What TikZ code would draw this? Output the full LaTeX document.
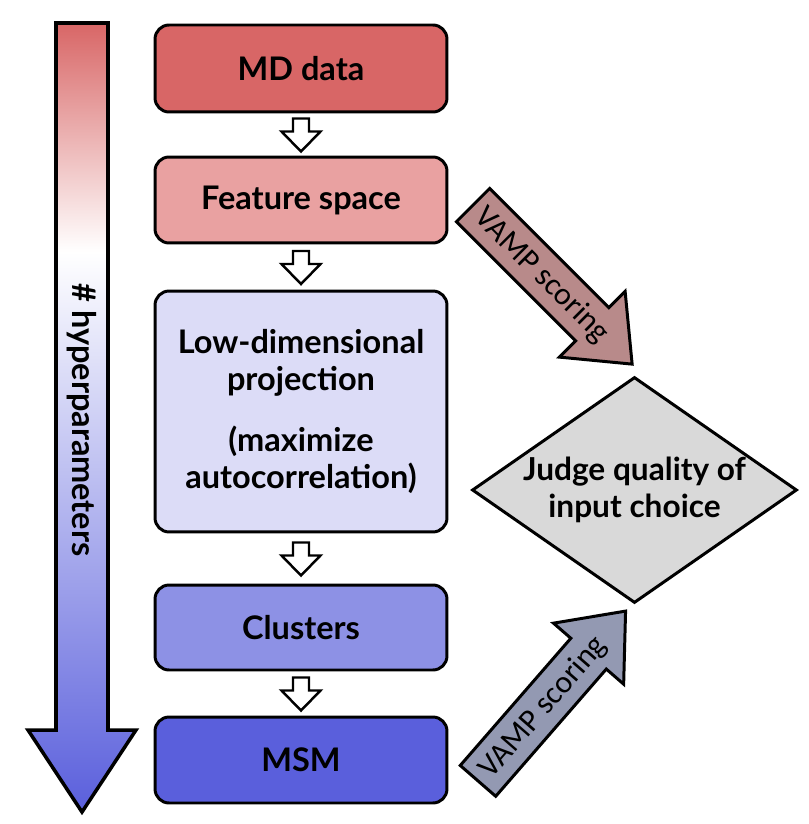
\documentclass[tikz,border=0pt]{standalone}
\usepackage{fontspec}
\setmainfont{Lato}
\newfontfamily\arrowfont{Carlito}
\usetikzlibrary{calc, positioning, shapes.geometric, shapes.arrows}

\definecolor{mdred}{HTML}{D86666}
\definecolor{featred}{HTML}{E9A1A1}
\definecolor{lowviolet}{HTML}{DCDCF7}
\definecolor{clublue}{HTML}{8D91E5}
\definecolor{msmblue}{HTML}{5A5FDC}
\definecolor{judgegray}{HTML}{D9D9D9}
\definecolor{vampred}{HTML}{B88A8A}
\definecolor{vampblue}{HTML}{9399B2}

\pgfdeclareverticalshading{hyper}{100bp}{color(0bp)=(msmblue); color(25bp)=(msmblue); color(60.5bp)=(white); color(75bp)=(mdred); color(100bp)=(mdred)}

\tikzset{
	stage/.style={draw, line width=1.7pt, rounded corners=8pt, minimum width=5.84cm, align=center, font=\bfseries\fontsize{18.5}{21.5}\selectfont},
	vamp/.style={single arrow, draw, line width=1.7pt, anchor=tail, minimum height=4.5cm, minimum width=1.8cm, single arrow head extend=0.46cm, single arrow tip angle=79, inner ysep=0pt, text height=0.63cm, text depth=0.25cm, font=\arrowfont\fontsize{18}{20}\selectfont},
	hollow/.pic={
		\draw[line width=1.4pt, fill=white] (-8,-16) -- (8,-16) -- (8,-3) -- (19.5,-3) -- (0,17) -- (-19.5,-3) -- (-8,-3) -- cycle;
	}
}

\begin{document}
\begin{tikzpicture}[x=0.02cm, y=-0.02cm]
	\useasboundingbox (0,0) rectangle (808,824);

	\shadedraw[shading=hyper, line width=2pt] (56,23) -- (108,23) -- (108,730) -- (136,730) -- (82,812) -- (28,730) -- (56,730) -- cycle;
	\node[rotate=-90, font=\bfseries\fontsize{18.5}{20}\selectfont] (hyper) at (82,420) {\# hyperparameters};

	\node[stage, fill=mdred, minimum height=1.74cm] (md) at (301,68.5) {MD data};
	\node[stage, fill=featred, minimum height=1.72cm] (feat) at (301,200) {Feature space};
	\node[stage, fill=lowviolet, minimum height=4.82cm] (low) at (301,411.5) {Low-dimensional\\projection\\[0.45cm](maximize\\autocorrelation)};
	\node[stage, fill=clublue, minimum height=1.7cm] (clu) at (301,627.5) {Clusters};
	\node[stage, fill=msmblue, minimum height=1.72cm] (msm) at (301,760) {MSM};

	\foreach \a/\b in {md/feat, feat/low, low/clu, clu/msm}
		\pic at ($(\a.south)!0.5!(\b.north)$) {hollow};

	\node[diamond, draw, line width=1.7pt, fill=judgegray, shape aspect=1.44, minimum width=6.5cm, minimum height=4.52cm, inner sep=0pt, align=center, font=\bfseries\fontsize{18}{21.5}\selectfont] (judge) at (634.5,490) {Judge quality of\\input choice};

	\node[vamp, fill=vampred, rotate=-45] (score1) at (472,204) {VAMP scoring};
	\node[vamp, fill=vampblue, rotate=49] (score2) at (477,782) {VAMP scoring};
\end{tikzpicture}
\end{document}
